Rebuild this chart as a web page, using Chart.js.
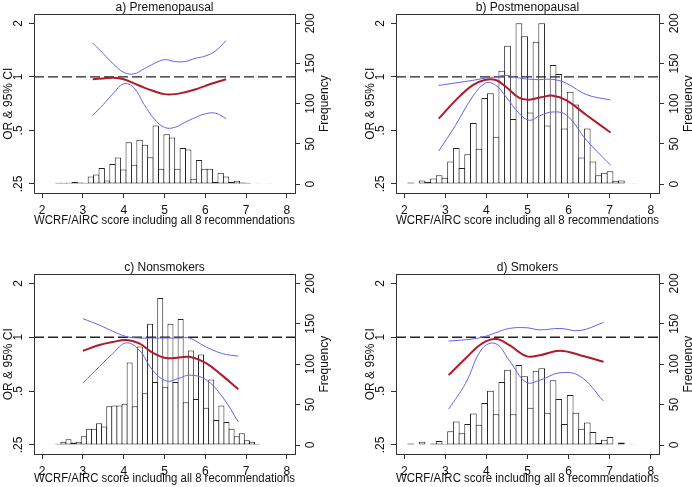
<!DOCTYPE html>
<html>
<head>
<meta charset="utf-8">
<script src="https://cdn.jsdelivr.net/npm/chart.js@4.4.1/dist/chart.umd.min.js"></script>
<style>
  body { margin: 0; background: #fff; width: 692px; height: 487px; overflow: hidden; position: relative; }
  canvas { position: absolute; }
</style>
</head>
<body>
<canvas id="panelA" width="346" height="229" style="left:0;top:0"></canvas>
<canvas id="panelB" width="346" height="229" style="left:346px;top:0"></canvas>
<canvas id="panelC" width="346" height="227" style="left:0;top:260px"></canvas>
<canvas id="panelD" width="346" height="227" style="left:346px;top:260px"></canvas>
<script>
// axis ticks shared by all four panels
const xTicks = [2, 3, 4, 5, 6, 7, 8];
const orTicks = [0.25, 0.5, 1, 2];
const orTickLabels = ['.25', '.5', '1', '2'];
const freqTicks = [0, 50, 100, 150, 200];

// a) Premenopausal
const aBinStart = 2.333, aBinWidth = 0.1326;
const aCounts = [1.5, 1.5, 1.5, 2.5, 2, 1.5, 9.5, 12, 20, 4.5, 25, 33, 18, 52, 24, 55, 49, 33.5, 73, 19,
                 62, 58, 19, 45, 43, 6.5, 30, 19, 19, 2.5, 14, 9.5, 2.5, 4, 2, 1.5, 0, 1, 0, 1];
const aCurveX = [3.24, 3.5, 3.75, 4.0, 4.25, 4.5, 4.75, 5.0, 5.25, 5.5, 5.75, 6.0, 6.25, 6.51];
const aOR     = [0.97, 0.98, 0.99, 0.97, 0.92, 0.87, 0.83, 0.80, 0.80, 0.82, 0.85, 0.89, 0.93, 0.97];
const aUpper  = [1.55, 1.35, 1.18, 1.06, 1.04, 1.11, 1.19, 1.25, 1.22, 1.22, 1.27, 1.31, 1.40, 1.60];
const aLower  = [0.606, 0.70, 0.81, 0.915, 0.87, 0.70, 0.58, 0.52, 0.52, 0.555, 0.59, 0.62, 0.625, 0.583];

// b) Postmenopausal
const bBinStart = 2.088, bBinWidth = 0.1386;
const bCounts = [2, 0, 4.5, 3, 7, 11, 8, 28, 45, 20, 37, 76, 44, 107, 113, 59, 141, 172, 81, 200,
                 184, 89, 177, 200, 73, 148, 137, 69, 115, 99, 33, 69, 28, 11, 14, 16, 4, 4.5, 0, 1];
const bCurveX = [2.84, 3.25, 3.66, 3.98, 4.23, 4.48, 4.8, 5.05, 5.3, 5.62, 5.95, 6.44, 7.02];
const bOR     = [0.583, 0.738, 0.896, 0.964, 0.96, 0.877, 0.761, 0.745, 0.765, 0.784, 0.738, 0.609, 0.487];
const bUpper  = [0.896, 0.925, 0.955, 0.985, 1.0, 1.02, 0.985, 0.97, 0.965, 0.968, 0.92, 0.794, 0.742];
const bLower  = [0.383, 0.535, 0.771, 0.923, 0.896, 0.771, 0.622, 0.57, 0.605, 0.635, 0.609, 0.44, 0.319];

// c) Nonsmokers
const cBinStart = 2.333, cBinWidth = 0.125;
const cCounts = [1.5, 4, 7, 3, 4, 11, 20, 20, 27, 23, 48, 49, 49, 51, 102, 48, 122, 64, 150, 78,
                 182, 72, 150, 78, 156, 53, 117, 57, 112, 46, 81, 31, 49, 28.5, 20, 11, 14.5, 6, 4, 1.5];
const cCurveX = [3.0, 3.4, 3.73, 4.06, 4.38, 4.71, 5.04, 5.36, 5.61, 6.01, 6.42, 6.81];
const cOR     = [0.84, 0.904, 0.94, 0.965, 0.923, 0.82, 0.765, 0.77, 0.777, 0.72, 0.61, 0.512];
const cUpper  = [1.27, 1.17, 1.08, 1.01, 0.99, 0.99, 0.99, 0.99, 0.99, 0.885, 0.81, 0.784];
const cLower  = [0.556, 0.684, 0.81, 0.93, 0.847, 0.655, 0.57, 0.59, 0.614, 0.58, 0.464, 0.336];

// d) Smokers
const dBinStart = 2.088, dBinWidth = 0.1386;
const dCounts = [2, 0, 4, 0, 2, 5, 1.5, 17, 29, 14.5, 26, 39, 25, 52, 67, 38, 78, 93, 38, 99,
                 85, 46, 92, 95, 40, 80, 57, 26, 62, 40, 20, 28, 16, 2.5, 6.6, 10, 0, 3, 0, 1];
const dCurveX = [3.08, 3.49, 3.9, 4.23, 4.56, 4.97, 5.3, 5.79, 6.28, 6.85];
const dOR     = [0.614, 0.761, 0.923, 0.976, 0.904, 0.784, 0.794, 0.84, 0.794, 0.729];
const dUpper  = [0.952, 0.968, 1.0, 1.06, 1.12, 1.13, 1.10, 1.12, 1.09, 1.21];
const dLower  = [0.396, 0.551, 0.865, 0.92, 0.74, 0.56, 0.575, 0.633, 0.605, 0.44];

const xTitle = 'WCRF/AIRC score including all 8 recommendations';
const fontFamily = 'Arial, "Liberation Sans", sans-serif';
const axisColor = '#333';
const ciColor = '#6262ee';

Chart.defaults.font.family = fontFamily;
Chart.defaults.font.size = 12;
Chart.defaults.color = '#111';

// box around the plot region + right axis title (reads bottom to top like Stata)
const panelFrame = {
    id: 'panelFrame',
    afterDatasetsDraw(chart) {
        const { ctx, chartArea: a } = chart;
        ctx.save();
        ctx.strokeStyle = axisColor;
        ctx.lineWidth = 1;
        ctx.strokeRect(Math.round(a.left) + 0.5, Math.round(a.top) + 0.5,
                       Math.round(a.right - a.left), Math.round(a.bottom - a.top));
        ctx.translate(a.right + 30, (a.top + a.bottom) / 2);
        ctx.rotate(-Math.PI / 2);
        ctx.fillStyle = '#111';
        ctx.font = '12px ' + fontFamily;
        ctx.textAlign = 'center';
        ctx.textBaseline = 'middle';
        ctx.fillText('Frequency', 0, 0);
        ctx.restore();
    }
};

function toPoints(xs, ys) {
    return xs.map((x, i) => ({ x: x, y: ys[i] }));
}

function histPoints(start, width, counts) {
    return counts.map((c, i) => ({ x: start + (i + 0.5) * width, y: c }));
}

function ciLine(label, pts, order) {
    return {
        type: 'line', label: label, data: pts, yAxisID: 'y',
        borderColor: ciColor, backgroundColor: ciColor, borderWidth: 1, pointRadius: 0,
        fill: false, tension: 0.4, order: order
    };
}

function drawPanel(id, title, start, width, counts, curveX, or, upper, lower, padL, padR, xAxisH) {
    const ctx = document.getElementById(id).getContext('2d');
    return new Chart(ctx, {
        type: 'bar',
        data: {
            datasets: [
                {
                    type: 'line', label: 'OR', data: toPoints(curveX, or), yAxisID: 'y',
                    borderColor: '#b01a2c', backgroundColor: '#b01a2c', borderWidth: 2, pointRadius: 0,
                    fill: false, tension: 0.4, order: 0
                },
                ciLine('upper', toPoints(curveX, upper), 1),
                ciLine('lower', toPoints(curveX, lower), 2),
                {
                    type: 'line', label: 'ref', data: [{ x: 1.8, y: 1 }, { x: 8.2, y: 1 }], yAxisID: 'y',
                    borderColor: '#222', borderWidth: 1.3, borderDash: [10, 4], pointRadius: 0,
                    fill: false, order: 3
                },
                {
                    type: 'bar', label: 'Frequency', data: histPoints(start, width, counts), yAxisID: 'yf',
                    backgroundColor: '#fff', borderColor: '#222', borderWidth: 1, borderSkipped: false,
                    barPercentage: 1.18, categoryPercentage: 1, order: 4
                }
            ]
        },
        options: {
            responsive: false,
            animation: false,
            events: [],
            layout: { padding: { left: padL, right: padR, top: 0, bottom: 0 } },
            plugins: {
                legend: { display: false },
                tooltip: { enabled: false },
                title: {
                    display: true, text: title, fullSize: false, color: '#111',
                    padding: { top: 0, bottom: 0 }, font: { size: 12, weight: 'normal' }
                }
            },
            scales: {
                x: {
                    type: 'linear', min: 1.8, max: 8.2, offset: false,
                    afterBuildTicks: s => { s.ticks = xTicks.map(v => ({ value: v })); },
                    afterFit: s => { s.height = xAxisH; },
                    ticks: { padding: 5, maxRotation: 0, callback: v => String(v) },
                    grid: { offset: false, drawOnChartArea: false, tickLength: 5, color: axisColor },
                    border: { display: false },
                    title: { display: true, text: xTitle, color: '#111', padding: { top: 0, bottom: 1 } }
                },
                y: {
                    type: 'logarithmic', position: 'left', min: 0.2225, max: 2.245,
                    afterBuildTicks: s => { s.ticks = orTicks.map(v => ({ value: v })); },
                    afterFit: s => { s.width = 34; },
                    ticks: {
                        minRotation: 90, maxRotation: 90, crossAlign: 'center', padding: 2,
                        callback: v => orTickLabels[orTicks.indexOf(v)]
                    },
                    grid: { drawOnChartArea: false, tickLength: 5, color: axisColor },
                    border: { display: false },
                    title: { display: true, text: 'OR & 95% CI', color: '#111', padding: { top: 1, bottom: 0 } }
                },
                yf: {
                    type: 'linear', position: 'right', min: -11.1, max: 211.1,
                    afterBuildTicks: s => { s.ticks = freqTicks.map(v => ({ value: v })); },
                    afterFit: s => { s.width = 33; },
                    ticks: { minRotation: 90, maxRotation: 90, crossAlign: 'center', padding: 1 },
                    grid: { drawOnChartArea: false, tickLength: 5, color: axisColor },
                    border: { display: false }
                }
            }
        },
        plugins: [panelFrame]
    });
}

drawPanel('panelA', 'a) Premenopausal', aBinStart, aBinWidth, aCounts, aCurveX, aOR, aUpper, aLower, 0, 18, 36);
drawPanel('panelB', 'b) Postmenopausal', bBinStart, bBinWidth, bCounts, bCurveX, bOR, bUpper, bLower, 16, 0, 36);
drawPanel('panelC', 'c) Nonsmokers', cBinStart, cBinWidth, cCounts, cCurveX, cOR, cUpper, cLower, 0, 18, 33);
drawPanel('panelD', 'd) Smokers', dBinStart, dBinWidth, dCounts, dCurveX, dOR, dUpper, dLower, 16, 0, 33);
</script>
</body>
</html>
